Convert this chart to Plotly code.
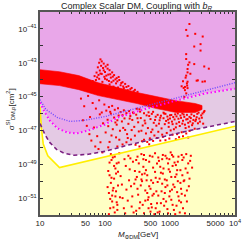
import plotly.graph_objects as go

# ---------------- data (log10 M [GeV], log10 sigma [cm^2]) ----------------
LZ_LOGM = [1.0, 1.09, 1.269, 1.463, 1.672, 2.0, 3.0, 4.0]
LZ_LOGS = [-45.18, -45.76, -46.24, -46.47, -46.41, -46.18, -45.18, -44.18]

MAG_LOGM = [1.0, 1.075, 1.149, 1.269, 1.418, 1.567, 1.746, 2.0, 2.194, 2.642, 3.09, 3.537, 4.0]
MAG_LOGS = [-45.35, -45.94, -46.41, -46.88, -47.12, -47.18, -47.0, -46.65, -46.24, -45.71, -45.24, -44.82, -44.53]

DSH_LOGM = [1.0, 1.075, 1.149, 1.254, 1.373, 1.522, 1.746, 2.0, 2.343, 2.791, 3.239, 4.0]
DSH_LOGS = [-46.59, -47.24, -47.71, -48.12, -48.35, -48.47, -48.41, -48.24, -47.88, -47.47, -47.06, -46.47]

NU_LOGM = [1.0, 1.02, 1.05, 1.12, 1.3, 4.0]
NU_LOGS = [-45.6, -46.8, -47.8, -48.5, -49.2, -46.75]

BAND_UP_LOGM = [1.0, 1.299, 1.597, 1.896, 2.194, 2.493, 2.791, 3.09, 3.388, 3.493]
BAND_UP_LOGS = [-43.41, -43.53, -43.76, -44.18, -44.47, -44.76, -45.0, -45.24, -45.41, -45.53]
BAND_LO_LOGM = [3.493, 3.388, 3.09, 2.791, 2.493, 2.194, 1.896, 1.597, 1.299, 1.0]
BAND_LO_LOGS = [-45.76, -45.94, -45.94, -45.71, -45.41, -45.18, -44.94, -44.59, -44.35, -44.24]

SPIKE_PTS = [
    (1.93, -42.8), (1.95, -42.92), (1.91, -43.0), (1.98, -43.05), (1.94, -43.18), (2.01, -43.22),
    (1.89, -43.27), (2.04, -43.35), (1.97, -43.31), (1.92, -43.46), (2.07, -43.44), (2.00, -43.55),
    (1.87, -43.58), (2.11, -43.57), (1.95, -43.66), (2.05, -43.7), (2.14, -43.73), (1.84, -43.79),
    (1.99, -43.83), (2.09, -43.88), (2.18, -43.91), (1.91, -43.95), (2.03, -44.0), (2.22, -44.02),
    (2.13, -44.06), (1.81, -44.08), (2.27, -44.15), (1.96, -44.13), (2.17, -44.22), (2.31, -44.25),
    (2.07, -44.28), (2.24, -44.33), (2.36, -44.38), (2.13, -44.41), (2.41, -44.49), (2.29, -44.5),
    (2.46, -44.6), (2.35, -44.62), (2.50, -44.72), (2.20, -44.47), (2.02, -43.76), (1.93, -43.64),
    (2.16, -43.98), (2.10, -44.15), (2.25, -44.2), (1.88, -43.86), (2.06, -44.08), (2.33, -44.43),
    (2.39, -44.56), (2.44, -44.68), (1.98, -43.45), (2.08, -43.68), (2.19, -44.1), (1.86, -44.02),
    (2.04, -43.12), (2.12, -43.82), (2.28, -44.4), (2.21, -43.84), (2.00, -43.95), (1.90, -43.72),
]

TOP_PTS = [
    (3.299, -40.71), (3.249, -41.06), (3.27, -41.41), (3.388, -41.29), (3.503, -41.45),
    (3.47, -41.9), (3.373, -42.04), (3.47, -42.28), (3.249, -42.49), (3.249, -42.78),
    (3.299, -42.98), (3.373, -43.08), (3.279, -43.12), (3.527, -43.22), (3.597, -43.35),
    (3.27, -43.37), (3.27, -43.57), (3.313, -43.65), (3.249, -43.76), (3.428, -44.04),
    (3.537, -44.1), (3.20, -44.1), (3.27, -44.12), (3.264, -44.35), (3.23, -44.43),
    (3.179, -44.39), (3.24, -43.88), (3.26, -44.22), (3.23, -44.62), (3.25, -44.81),
    (3.22, -45.02), (3.27, -44.5), (3.21, -44.49), (3.41, -44.06), (3.50, -44.12),
]

MID_PTS = [
    (1.63, -45.12), (1.68, -45.57), (1.74, -44.96), (1.77, -46.21), (1.81, -45.38), (1.83, -46.83),
    (1.86, -45.71), (1.88, -47.34), (1.91, -45.22), (1.92, -46.05), (1.95, -45.94), (1.97, -46.58),
    (1.99, -45.47), (2.01, -47.12), (2.02, -45.83), (2.04, -46.37), (2.06, -45.62), (2.07, -47.68),
    (2.09, -46.01), (2.11, -45.55), (2.12, -46.93), (2.14, -46.24), (2.15, -45.78), (2.17, -47.41),
    (2.18, -46.66), (2.20, -45.69), (2.21, -46.12), (2.23, -47.02), (2.24, -45.91), (2.26, -46.47),
    (2.27, -47.83), (2.29, -45.81), (2.30, -46.29), (2.31, -46.97), (2.33, -45.98), (2.34, -47.22),
    (2.36, -46.61), (2.37, -45.86), (2.39, -46.15), (2.40, -47.53), (2.42, -46.38), (2.43, -45.94),
    (2.45, -46.79), (2.46, -47.31), (2.48, -46.07), (2.49, -45.72), (2.51, -46.52), (2.52, -47.06),
    (2.54, -45.89), (2.55, -46.27), (2.57, -47.64), (2.58, -46.71), (2.60, -45.98), (2.61, -46.42),
    (2.63, -47.18), (2.64, -46.11), (2.66, -46.86), (2.67, -45.93), (2.69, -47.47), (2.70, -46.33),
    (2.72, -46.02), (2.73, -46.95), (2.75, -46.55), (2.76, -47.3), (2.78, -46.19), (2.79, -46.72),
    (2.81, -46.08), (2.82, -47.08), (2.84, -46.4), (2.86, -46.13), (2.87, -46.88), (2.89, -47.38),
    (2.90, -46.28), (2.92, -46.63), (2.93, -46.02), (2.95, -47.15), (2.97, -46.36), (2.98, -46.79),
    (3.00, -46.1), (3.01, -47.0), (3.03, -46.48), (3.05, -46.21), (3.06, -46.93), (3.08, -46.05),
    (3.10, -46.6), (3.11, -47.22), (3.13, -46.31), (3.15, -46.74), (3.16, -46.12), (3.18, -47.11),
    (3.20, -46.43), (3.22, -46.2), (3.24, -46.86), (3.26, -46.08), (3.28, -46.55), (3.30, -47.03),
    (3.32, -46.27), (3.34, -46.69), (3.37, -46.14), (3.39, -46.45), (3.42, -46.02), (3.45, -46.3),
    (3.48, -46.11), (3.52, -45.92), (2.91, -46.0), (2.96, -46.18), (3.02, -46.09), (3.07, -46.35),
    (3.12, -46.0), (3.17, -46.26), (3.21, -46.06), (3.27, -46.33), (3.33, -46.05), (3.36, -46.38),
    (3.41, -46.22), (3.46, -46.48), (2.94, -46.44), (3.04, -46.63), (3.14, -46.51), (3.23, -46.66),
    (3.31, -46.47), (1.72, -46.73), (1.76, -47.22), (1.85, -47.95), (1.90, -48.1), (1.93, -47.7),
    (1.66, -46.4), (1.79, -47.6), (1.96, -48.3), (2.05, -48.0), (2.19, -47.95), (2.33, -47.7),
    (2.47, -47.85), (2.60, -47.55), (2.74, -47.62), (2.85, -47.6), (2.99, -47.48), (3.09, -47.52),
    (3.20, -47.35), (3.28, -47.42), (2.53, -47.95), (2.68, -47.82),
    (2.05, -46.75), (2.10, -47.3), (2.16, -46.53), (2.22, -47.55), (2.28, -46.85), (2.35, -47.45),
    (2.41, -46.98), (2.44, -45.98), (2.50, -46.28), (2.56, -47.02), (2.62, -46.58), (2.65, -47.68),
    (2.71, -47.1), (2.77, -46.38), (2.80, -47.45), (2.83, -46.6), (2.88, -47.25), (2.93, -47.58),
    (2.98, -46.55), (3.04, -47.25), (3.09, -46.82), (3.14, -47.4), (3.19, -46.6), (3.25, -47.18),
    (3.29, -46.78), (3.35, -46.58), (3.38, -46.9), (3.43, -46.58), (3.49, -46.25), (3.51, -46.6),
    (2.08, -45.9), (2.19, -46.4), (2.27, -46.1), (2.38, -46.3), (2.53, -45.75), (2.68, -46.15),
    (2.74, -45.9), (2.85, -46.25), (2.90, -45.95), (3.00, -46.3), (3.10, -46.17), (3.19, -46.0),
    (3.25, -46.35), (3.30, -46.2), (3.40, -46.35), (3.44, -45.95), (3.50, -46.0), (3.53, -45.85),
]

LOW_PTS = [
    (2.05, -49.4), (2.06, -50.7), (2.07, -48.9), (2.08, -51.6), (2.09, -50.1), (2.10, -49.8),
    (2.11, -51.2), (2.12, -48.6), (2.13, -50.4), (2.14, -49.1), (2.15, -51.85), (2.16, -50.9),
    (2.17, -49.55), (2.18, -48.95), (2.19, -51.4), (2.20, -50.25), (2.24, -49.7), (2.27, -51.0),
    (2.30, -48.7), (2.33, -50.5), (2.38, -49.3), (2.41, -51.5), (2.43, -48.85), (2.45, -50.15),
    (2.47, -49.9), (2.48, -51.75), (2.50, -48.55), (2.51, -50.8), (2.53, -49.45), (2.54, -51.25),
    (2.56, -48.4), (2.57, -50.0), (2.59, -49.15), (2.60, -51.9), (2.62, -50.55), (2.63, -48.75),
    (2.65, -49.65), (2.66, -51.1), (2.68, -50.3), (2.69, -48.5), (2.71, -49.95), (2.72, -51.55),
    (2.74, -49.2), (2.75, -50.75), (2.77, -48.35), (2.78, -49.8), (2.80, -51.3), (2.81, -50.05),
    (2.83, -48.8), (2.84, -51.8), (2.86, -49.5), (2.87, -50.6), (2.89, -48.45), (2.90, -51.05),
    (2.92, -49.9), (2.93, -50.35), (2.95, -48.65), (2.96, -51.65), (2.98, -49.3), (2.99, -50.9),
    (3.01, -48.3), (3.02, -49.75), (3.04, -51.4), (3.05, -50.2), (3.07, -48.9), (3.08, -51.95),
    (3.10, -49.6), (3.11, -50.65), (3.13, -48.55), (3.14, -51.15), (3.16, -49.35), (3.17, -50.45),
    (3.19, -48.75), (3.20, -51.6), (3.22, -49.95), (3.23, -50.85), (3.25, -48.4), (3.27, -49.5),
    (3.29, -50.3), (3.31, -48.8), (3.34, -49.2), (2.06, -51.95), (2.09, -48.4), (2.12, -50.55),
    (2.16, -49.25), (2.19, -51.7), (2.52, -48.95), (2.58, -51.4), (2.64, -49.95), (2.70, -51.8),
    (2.73, -48.55), (2.79, -50.6), (2.85, -49.15), (2.91, -51.45), (2.97, -48.95), (3.03, -50.5),
    (3.09, -49.05), (3.15, -51.85), (3.21, -50.0), (3.26, -51.2), (2.55, -50.25), (2.61, -49.55),
    (2.67, -50.95), (2.76, -51.95), (2.82, -48.6), (2.88, -50.15), (2.94, -51.2), (3.00, -49.45),
    (3.06, -51.7), (3.12, -50.0), (3.18, -48.45), (2.46, -49.4), (2.42, -50.9), (2.36, -48.5),
    (2.04, -50.35), (2.07, -49.65), (2.08, -51.05), (2.10, -48.75), (2.11, -50.85), (2.13, -51.55),
    (2.14, -49.85), (2.15, -48.55), (2.17, -50.6), (2.18, -51.25), (2.20, -49.45), (2.22, -48.35),
    (2.26, -50.2), (2.29, -51.6), (2.32, -49.1), (2.35, -51.15), (2.37, -49.95), (2.39, -48.65),
    (2.44, -51.85), (2.49, -49.75), (2.50, -50.45), (2.53, -51.6), (2.56, -49.9), (2.59, -48.7),
    (2.62, -51.15), (2.63, -49.35), (2.65, -50.7), (2.68, -48.85), (2.70, -50.45), (2.71, -51.35),
    (2.74, -50.1), (2.77, -49.45), (2.78, -51.6), (2.80, -48.95), (2.82, -50.85), (2.84, -49.85),
    (2.86, -51.3), (2.88, -48.7), (2.89, -49.55), (2.92, -50.7), (2.93, -48.5), (2.95, -49.95),
    (2.97, -51.9), (2.99, -48.7), (3.00, -50.6), (3.02, -51.1), (3.04, -49.1), (3.05, -48.55),
    (3.07, -50.35), (3.08, -49.75), (3.10, -51.45), (3.12, -48.85), (3.13, -50.9), (3.16, -50.1),
    (3.17, -51.25), (3.19, -49.65), (3.21, -48.6), (3.23, -51.9), (3.24, -49.25), (3.26, -50.55),
    (3.28, -48.95), (3.30, -49.85), (3.32, -48.5), (2.60, -48.45), (2.67, -51.6), (2.73, -50.85),
    (2.81, -51.85), (2.90, -49.25), (2.96, -50.25), (3.03, -48.45), (3.11, -49.35), (3.18, -50.75),
    (2.57, -49.6), (2.48, -48.75), (2.40, -50.3), (2.31, -51.9), (2.23, -50.95), (2.21, -48.9),
]

X_LABEL_VALS = [10, 50, 100, 500, 1000, 5000, 10000]
X_LABEL_TEXT = ["10", "50", "100", "500", "1000", "5000", "10<sup>4</sup>"]
X_MINOR_VALS = [20, 30, 40, 60, 70, 80, 90, 200, 300, 400, 600, 700, 800, 900,
                2000, 3000, 4000, 6000, 7000, 8000, 9000]
Y_EXPONENTS = [-51, -50, -49, -48, -47, -46, -45, -44, -43, -42, -41]

# ---------------- figure ----------------
def p10(v):
    return [10 ** a for a in v]

PINK = "#E9A7E9"
LAV = "#E4CAE4"
CREAM = "#FFFFC4"

fig = go.Figure()

fig.add_trace(go.Scatter(
    x=p10(MAG_LOGM + [4.0, 1.0]), y=p10(MAG_LOGS + [-40.0, -40.0]),
    fill="toself", fillcolor=PINK, line=dict(width=0), mode="lines", hoverinfo="skip"))
fig.add_trace(go.Scatter(
    x=p10(MAG_LOGM + DSH_LOGM[::-1]), y=p10(MAG_LOGS + DSH_LOGS[::-1]),
    fill="toself", fillcolor=LAV, line=dict(width=0), mode="lines", hoverinfo="skip"))
fig.add_trace(go.Scatter(
    x=p10(NU_LOGM + [4.0, 1.0]), y=p10(NU_LOGS + [-52.0, -52.0]),
    fill="toself", fillcolor=CREAM, line=dict(width=0), mode="lines", hoverinfo="skip"))

fig.add_trace(go.Scatter(
    x=p10(BAND_UP_LOGM + BAND_LO_LOGM), y=p10(BAND_UP_LOGS + BAND_LO_LOGS),
    fill="toself", fillcolor="#FF0000", line=dict(width=0.6, color="#FF0000"),
    mode="lines", hoverinfo="skip"))

pts = SPIKE_PTS + TOP_PTS + MID_PTS + LOW_PTS
fig.add_trace(go.Scatter(
    x=[10 ** p[0] for p in pts], y=[10 ** p[1] for p in pts],
    mode="markers", marker=dict(symbol="square", size=2.0, color="#FF0000", line=dict(width=0))))

fig.add_trace(go.Scatter(x=p10(NU_LOGM), y=p10(NU_LOGS), mode="lines",
                         line=dict(color="#FFEE00", width=1.6)))
fig.add_trace(go.Scatter(x=p10(DSH_LOGM), y=p10(DSH_LOGS), mode="lines",
                         line=dict(color="#7A1F80", width=1.6, dash="4px,3px")))
fig.add_trace(go.Scatter(x=p10(MAG_LOGM), y=p10(MAG_LOGS), mode="lines",
                         line=dict(color="#FF00FF", width=2.0, dash="1.5px,2.5px")))
fig.add_trace(go.Scatter(x=p10(LZ_LOGM), y=p10(LZ_LOGS), mode="lines",
                         line=dict(color="#6A48FF", width=1.4, dash="1px,1.5px")))

x_vals = X_LABEL_VALS + X_MINOR_VALS
x_text = X_LABEL_TEXT + [""] * len(X_MINOR_VALS)

fig.update_layout(
    width=249, height=244,
    margin=dict(l=40, r=8, t=12, b=29),
    paper_bgcolor="white", plot_bgcolor="white",
    showlegend=False,
    font=dict(family="Liberation Sans, Arial, sans-serif", size=8, color="#222"),
    xaxis=dict(type="log", range=[1, 4], tickvals=x_vals, ticktext=x_text,
               ticks="inside", ticklen=2.5, tickcolor="#333", mirror="allticks",
               showline=True, linecolor="#555", linewidth=1.5, showgrid=False, zeroline=False,
               tickfont=dict(size=8)),
    yaxis=dict(type="log", range=[-52, -40],
               tickvals=[10.0 ** e for e in Y_EXPONENTS],
               ticktext=[("10<sup>\u2212%d</sup>" % -e) if e % 2 else "" for e in Y_EXPONENTS],
               ticks="inside", ticklen=3, tickcolor="#333", mirror="allticks",
               showline=True, linecolor="#555", linewidth=1.5, showgrid=False, zeroline=False,
               tickfont=dict(size=8)),
    annotations=[
        dict(text="Complex Scalar DM, Coupling with <i>b</i><sub><i>R</i></sub>",
             xref="paper", yref="paper", x=(140 - 40) / 201, y=1.028,
             xanchor="center", yanchor="middle", showarrow=False,
             font=dict(size=9, color="#222")),
        dict(text="<i>M</i><sub>\u03a6DM</sub>[GeV]", xref="paper", yref="paper",
             x=0.5, y=-0.1, xanchor="center", yanchor="middle", showarrow=False,
             font=dict(size=8)),
        dict(text="\u03c3<sup>SI</sup><sub>DM,p</sub>[cm<sup>2</sup>]", xref="paper", yref="paper",
             x=-0.15, y=0.52, xanchor="center", yanchor="middle", textangle=-90, showarrow=False,
             font=dict(size=8)),
    ],
)

fig.write_html("out.html", config={"displayModeBar": False},
               post_script="document.body.style.margin='0';document.body.style.overflow='hidden';")
